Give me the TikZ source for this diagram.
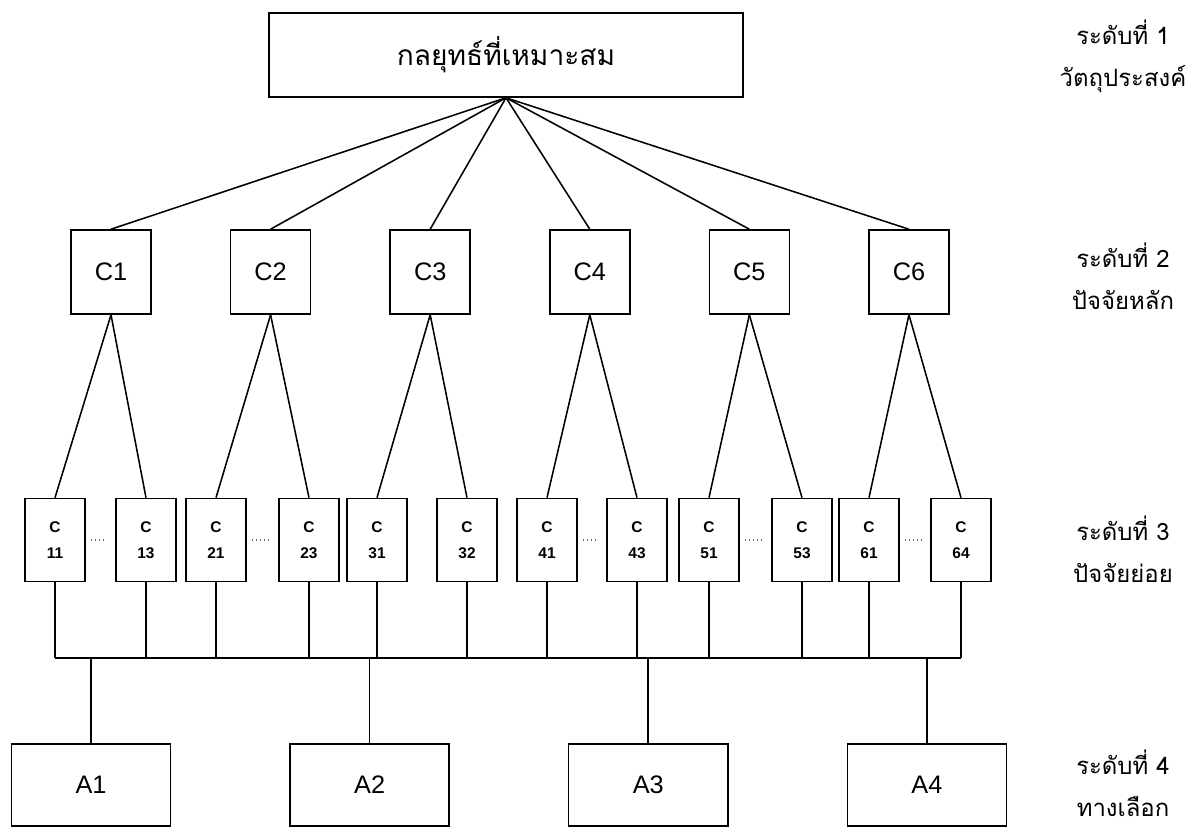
\documentclass[tikz,border=0pt]{standalone}
\usepackage{fontspec}
\setmainfont{Liberation Sans}
\newfontfamily\thaifont[Script=Thai]{Loma}
\usetikzlibrary{positioning}

\begin{document}
\begin{tikzpicture}[
    x=0.025cm, y=-0.025cm,
    node distance=1cm and 1.95cm,
    box/.style={rectangle, draw, line width=1.1pt, text centered},
    goalbox/.style={box, minimum width=11.85cm, minimum height=2.1cm, font=\thaifont\fontsize{20}{24}\selectfont},
    mainbox/.style={box, minimum width=2cm, minimum height=2.1cm, font=\fontsize{18}{22}\selectfont},
    subbox/.style={box, minimum width=1.5cm, minimum height=2.075cm, align=center, font=\bfseries\fontsize{11}{18.5}\selectfont},
    altbox/.style={box, minimum width=3.975cm, minimum height=2.05cm, font=\fontsize{18}{22}\selectfont},
    levellabel/.style={align=center, font=\thaifont\fontsize{17}{30}\selectfont},
    link/.style={line width=1.1pt},
    gap/.style={dotted, black!60, line width=0.9pt, shorten <=0.125cm, shorten >=0.225cm}
]
\useasboundingbox (0,0) rectangle (1193,827);

% level 1
\node[goalbox] (goal) at (506,55) {กลยุทธ์ที่เหมาะสม};

% level 2
\node[mainbox] (c1) at (111,272) {C1};
\node[mainbox, right=of c1] (c2) {C2};
\node[mainbox, right=of c2] (c3) {C3};
\node[mainbox, right=of c3] (c4) {C4};
\node[mainbox, right=of c4] (c5) {C5};
\node[mainbox, right=of c5] (c6) {C6};

% level 3
\node[subbox] (c11) at (55,540) {C\\11};
\node[subbox] (c13) at (146,540) {C\\13};
\node[subbox] (c21) at (216,540) {C\\21};
\node[subbox] (c23) at (309,540) {C\\23};
\node[subbox] (c31) at (377,540) {C\\31};
\node[subbox] (c32) at (467,540) {C\\32};
\node[subbox] (c41) at (547,540) {C\\41};
\node[subbox] (c43) at (637,540) {C\\43};
\node[subbox] (c51) at (709,540) {C\\51};
\node[subbox] (c53) at (802,540) {C\\53};
\node[subbox] (c61) at (869,540) {C\\61};
\node[subbox] (c64) at (961,540) {C\\64};

% level 4
\node[altbox] (a1) at (91,785) {A1};
\node[altbox, right=2.95cm of a1] (a2) {A2};
\node[altbox, right=2.95cm of a2] (a3) {A3};
\node[altbox, right=2.95cm of a3] (a4) {A4};

% level names
\node[levellabel] (lvl1) at (1123,56) {ระดับที่ 1\\วัตถุประสงค์};
\node[levellabel] (lvl2) at (1123,276) {ระดับที่ 2\\ปัจจัยหลัก};
\node[levellabel] (lvl3) at (1123,549) {ระดับที่ 3\\ปัจจัยย่อย};
\node[levellabel] (lvl4) at (1123,783) {ระดับที่ 4\\ทางเลือก};

% goal to criteria
\draw[link] (goal.south) -- (c1.north);
\draw[link] (goal.south) -- (c2.north);
\draw[link] (goal.south) -- (c3.north);
\draw[link] (goal.south) -- (c4.north);
\draw[link] (goal.south) -- (c5.north);
\draw[link] (goal.south) -- (c6.north);

% criteria to sub-criteria
\draw[link] (c1.south) -- (c11.north);
\draw[link] (c1.south) -- (c13.north);
\draw[link] (c2.south) -- (c21.north);
\draw[link] (c2.south) -- (c23.north);
\draw[link] (c3.south) -- (c31.north);
\draw[link] (c3.south) -- (c32.north);
\draw[link] (c4.south) -- (c41.north);
\draw[link] (c4.south) -- (c43.north);
\draw[link] (c5.south) -- (c51.north);
\draw[link] (c5.south) -- (c53.north);
\draw[link] (c6.south) -- (c61.north);
\draw[link] (c6.south) -- (c64.north);

% omitted sub-criteria
\draw[gap] (c11.east) -- (c13.west);
\draw[gap] (c21.east) -- (c23.west);
\draw[gap] (c41.east) -- (c43.west);
\draw[gap] (c51.east) -- (c53.west);
\draw[gap] (c61.east) -- (c64.west);

% bus to alternatives
\coordinate (bus) at (0,658);
\draw[link] (c11.south |- bus) -- (c64.south |- bus);
\draw[link] (c11.south) -- (c11.south |- bus);
\draw[link] (c13.south) -- (c13.south |- bus);
\draw[link] (c21.south) -- (c21.south |- bus);
\draw[link] (c23.south) -- (c23.south |- bus);
\draw[link] (c31.south) -- (c31.south |- bus);
\draw[link] (c32.south) -- (c32.south |- bus);
\draw[link] (c41.south) -- (c41.south |- bus);
\draw[link] (c43.south) -- (c43.south |- bus);
\draw[link] (c51.south) -- (c51.south |- bus);
\draw[link] (c53.south) -- (c53.south |- bus);
\draw[link] (c61.south) -- (c61.south |- bus);
\draw[link] (c64.south) -- (c64.south |- bus);
\draw[link] (a1.north |- bus) -- (a1.north);
\draw[link] (a2.north |- bus) -- (a2.north);
\draw[link] (a3.north |- bus) -- (a3.north);
\draw[link] (a4.north |- bus) -- (a4.north);

\end{tikzpicture}
\end{document}
